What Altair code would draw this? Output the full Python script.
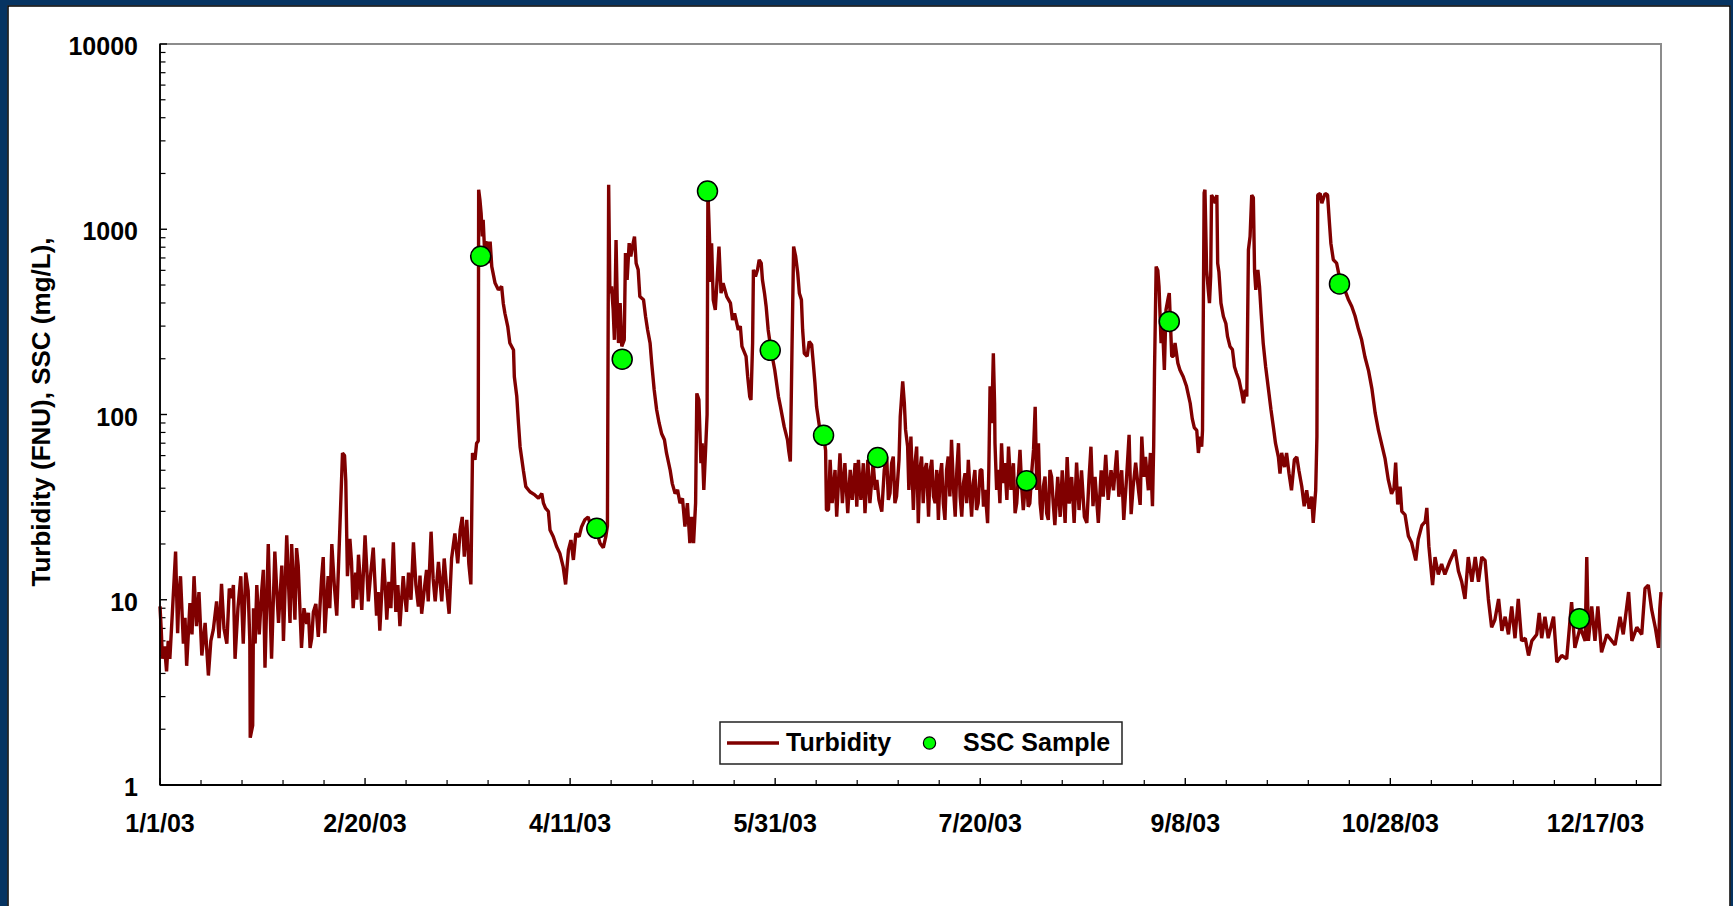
import altair as alt
import pandas as pd

# ---------------- data ----------------
# Turbidity (FNU): (day of year offset from 1/1/03, value)
turb_jan_mar = [
    (0.0, 9.2), (0.3, 6.9), (0.6, 4.8), (1.6, 4.1), (2.4, 4.8), (3.0, 8.4), (3.8, 18.2), (4.3, 6.6),
    (5.0, 13.4), (5.7, 5.8), (6.5, 4.4), (7.3, 9.6), (8.3, 13.4), (8.9, 7.2), (10.2, 5.0), (11.8, 3.9),
    (13.0, 6.9), (13.8, 9.8), (15.0, 12.2), (16.3, 5.8), (17.5, 10.2), (18.3, 4.8), (19.7, 13.4),
    (20.3, 5.8), (21.5, 11.2), (21.9, 6.0), (22.0, 1.8), (22.6, 2.1), (22.8, 9.0), (23.2, 5.8),
    (24.8, 11.2), (25.6, 4.3), (26.4, 20), (27.2, 4.8), (28.0, 18.2), (28.9, 7.5), (29.7, 15.3),
    (30.1, 6.0), (30.9, 22.3), (31.7, 7.5), (32.1, 20), (32.9, 7.8), (33.7, 15.3), (34.5, 5.5),
    (35.8, 7.4), (36.6, 5.5), (37.4, 8.6), (38.6, 6.3), (39.4, 13.1), (40.2, 6.6), (41.0, 13.4),
    (41.9, 20), (43.1, 8.2), (43.9, 26), (44.5, 62), (45.0, 60), (45.3, 44), (45.7, 13.4), (46.3, 21.3),
    (47.1, 9.0), (48.4, 17.5), (49.2, 8.8), (50.0, 22.3), (50.8, 9.8), (52.0, 19.1), (52.8, 8.2),
    (53.6, 6.8), (54.5, 16.7), (55.3, 7.8), (56.9, 20.4), (57.5, 8.6), (58.5, 7.2), (59.3, 13.4),
    (60.1, 8.6), (61.8, 20.4), (63.0, 9.2), (63.8, 8.4), (64.6, 12.2), (65.4, 9.8), (66.1, 23.3),
    (67.1, 9.8), (67.9, 16), (68.7, 9.8), (69.3, 16.7), (70.5, 8.4), (71.1, 16.7), (71.9, 22.8),
    (72.6, 15.7), (73.2, 23.8), (73.7, 28), (74.2, 17.1), (74.8, 27), (75.3, 15.7), (75.8, 12.1),
    (76.2, 62), (76.8, 57), (77.2, 70), (77.6, 72),
]
# further short oscillations seen in the dense Jan-Mar band
turb_jan_mar_fill = [
    (1.1, 5.6), (2.0, 6.0), (4.6, 10.5), (6.1, 8.0), (7.8, 6.5), (9.5, 11.0), (11.0, 7.5), (12.4, 6.0),
    (14.4, 6.2), (15.6, 7.0), (16.9, 11.5), (17.9, 12.0), (19.0, 9.0), (20.9, 14.0), (23.6, 12.0),
    (24.2, 6.5), (25.2, 14.5), (26.8, 9.5), (28.4, 12.0), (33.3, 19.0), (35.1, 9.0), (36.2, 8.5),
    (37.0, 6.2), (38.0, 9.5), (39.8, 17.0), (41.4, 9.0), (42.5, 12.0), (46.7, 16.0), (47.7, 14.0),
    (48.0, 10.0), (48.8, 13.0), (50.4, 15.0), (51.4, 14.0), (53.2, 11.0), (54.9, 12.0), (55.8, 12.5),
    (56.3, 9.0), (58.0, 12.0), (59.7, 10.5), (60.6, 14.0), (61.2, 10.0), (62.4, 12.0), (63.4, 13.5),
    (65.0, 14.5), (66.6, 13.0), (67.5, 12.5), (69.9, 11.5),
]
turb_mar_may = [
    (77.7, 1634), (78.0, 1450), (78.3, 1221), (78.6, 914), (78.8, 1125), (79.1, 807), (79.7, 858),
    (80.1, 656), (80.5, 858), (80.9, 629), (81.7, 512), (82.5, 471), (83.3, 491), (83.7, 399),
    (84.1, 352), (84.8, 298), (85.3, 243), (86.2, 223), (86.4, 160), (87.0, 125), (87.4, 90),
    (87.8, 67), (88.6, 50), (89.2, 40.8), (90.2, 38.3), (91.4, 36.8), (92.3, 35.3), (93.1, 37.5),
    (93.5, 33.2), (94.0, 31.2), (94.7, 30), (95.1, 23.8), (95.9, 21.9), (96.7, 19.4), (97.5, 17.8),
    (98.3, 15.1), (98.9, 12.1), (99.6, 18.6), (100.2, 21), (100.8, 16.4), (101.4, 22.8),
    (102.2, 21.9), (102.8, 24.8), (103.6, 27), (104.4, 28), (105.3, 23.8), (106.1, 24.8),
    (107.3, 20.2), (108.1, 19.1), (108.7, 21.9), (109.1, 25), (109.4, 1738), (109.7, 452),
    (110.1, 491), (110.5, 367), (110.8, 253), (111.2, 874), (111.5, 399), (111.8, 243), (112.2, 399),
    (112.6, 233), (113.2, 253), (113.5, 743), (113.9, 533), (114.4, 841), (114.8, 713), (115.2, 807),
    (115.7, 914), (116.1, 656), (116.6, 604), (117.0, 433), (117.9, 416), (118.4, 338), (118.9, 286),
    (119.5, 243), (119.9, 189), (120.5, 136), (121.1, 106), (121.7, 90), (122.3, 79), (123.0, 73),
    (123.5, 62), (124.4, 50), (124.9, 42.5), (125.6, 37.5), (126.2, 39.2), (126.8, 33.2),
    (127.4, 35.3), (128.0, 24.8), (128.6, 33.2), (129.2, 20.2), (129.6, 28), (130.1, 20.2),
    (130.6, 33.2), (130.9, 130), (131.4, 120), (131.9, 54.6), (132.2, 70), (132.6, 39.2),
    (133.0, 62), (133.4, 100),
]
turb_may_jun = [
    (133.6, 1620), (134.0, 877), (134.3, 520), (134.5, 841), (134.9, 416), (135.4, 367), (135.9, 560),
    (136.3, 807), (136.8, 452), (137.3, 512), (138.2, 433), (139.1, 399), (139.6, 324), (140.1, 352),
    (141.0, 286), (141.5, 300), (141.9, 233), (142.9, 206), (143.3, 160), (143.8, 125), (144.1, 120),
    (144.5, 243), (144.7, 604), (145.2, 556), (145.7, 604), (146.1, 684), (146.6, 656), (146.9, 533),
    (147.4, 452), (147.8, 383), (148.3, 286), (149.0, 223), (149.9, 174), (150.8, 125), (151.3, 110),
    (152.2, 86), (153.0, 73), (153.3, 64), (153.7, 55.7), (154.1, 223), (154.5, 807), (155.0, 713),
    (155.5, 580), (155.9, 452), (156.4, 416), (156.7, 286), (157.1, 214), (157.8, 206), (158.3, 248),
    (158.9, 238), (159.3, 189), (159.7, 148), (160.1, 110), (160.8, 86), (161.8, 77), (162.3, 64),
    (162.5, 30.5),
]
turb_jun_aug = [
    (163.0, 30.5), (163.4, 56.9), (163.9, 33.2), (164.6, 50.2), (165.0, 28.1), (165.8, 61.8),
    (166.4, 33.2), (167.0, 54.6), (167.7, 29.3), (168.3, 50.2), (168.8, 34.6), (169.5, 54.6),
    (169.9, 31.8), (170.3, 56.9), (170.9, 34.6), (171.5, 54.6), (171.9, 29.3), (172.6, 56.9),
    (173.1, 33.2), (173.9, 54.6), (174.4, 39.2), (174.8, 44.4), (175.3, 34.6), (176.0, 29.9),
    (176.6, 50.2), (177.2, 59.3), (177.6, 34.6), (178.0, 37.6), (178.4, 54.6), (178.8, 59.3),
    (179.2, 33.2), (179.6, 36.1), (180.2, 56.9), (180.5, 97.5), (181.1, 151), (181.5, 115),
    (181.8, 82.6), (182.3, 67.1), (182.6, 39.2), (183.1, 76), (183.7, 30.5), (184.1, 54.6),
    (184.5, 67.1), (184.9, 25.9), (185.3, 50.2), (185.7, 59.3), (186.1, 33.2), (186.5, 50.2),
    (186.9, 54.6), (187.4, 28.1), (187.8, 50.2), (188.2, 56.9), (188.6, 36.1), (189.0, 33.2),
    (189.4, 50.2), (189.8, 27.0), (190.2, 46.2), (190.6, 54.6), (191.0, 33.2), (191.4, 27.0),
    (191.8, 50.2), (192.2, 59.3), (192.6, 36.1), (193.0, 73), (193.5, 39.2), (193.9, 28.1),
    (194.3, 50.2), (194.7, 70), (195.1, 36.1), (195.5, 28.1), (195.9, 42.6), (196.3, 48.2),
    (196.7, 33.2), (197.1, 56.9), (197.5, 39.2), (197.9, 28.1), (198.3, 42.6), (198.7, 50.2),
    (199.1, 30.5), (199.5, 33.2), (200.0, 50.2), (200.4, 50.2), (200.8, 31.8), (201.2, 39.2),
    (201.8, 25.9), (202.1, 50.2), (202.4, 142), (202.8, 89.8), (203.2, 214), (203.5, 115),
    (203.6, 70), (204.0, 39.2), (204.4, 50.2), (204.8, 33.2), (205.2, 70), (205.6, 42.6),
    (206.0, 54.6), (206.5, 34.6), (206.9, 67.1), (207.5, 39.2), (208.1, 54.6), (208.5, 29.3),
    (208.9, 33.2), (209.3, 46.2), (209.7, 64.4), (210.1, 41), (210.5, 30.5), (210.9, 39.2),
    (211.3, 44.4), (211.7, 31.8), (212.1, 33.2), (212.6, 50.2), (213.0, 64.4), (213.4, 110),
    (213.8, 39.2), (214.2, 70), (214.6, 33.2), (215.0, 27.0), (215.4, 41), (215.8, 46.2),
    (216.2, 29.3), (216.6, 27.0), (217.0, 50.2), (217.4, 46.2), (217.8, 33.2), (218.2, 25.3),
    (218.9, 46), (219.5, 28), (220.0, 50), (220.7, 26), (221.2, 59), (221.7, 33), (222.3, 46),
    (222.9, 26), (223.5, 55), (224.1, 30.5), (224.7, 50), (225.4, 28), (226.0, 26), (226.5, 44),
    (227.0, 67), (227.5, 32), (228.0, 46), (228.8, 26), (229.5, 50), (230.0, 36), (230.6, 60.5),
    (231.2, 34.6), (231.9, 50), (232.5, 39), (233.3, 64), (233.8, 36), (234.5, 50), (235.0, 27),
    (235.7, 46), (236.3, 77.6), (236.8, 29), (237.3, 41), (237.9, 55), (238.6, 39), (239.0, 32.5),
    (239.4, 76), (239.9, 46), (240.3, 59), (241.0, 39), (241.5, 62), (242.0, 32), (242.3, 68.5),
]
turb_sep_oct = [
    (242.5, 174), (242.9, 629), (243.3, 600), (243.6, 491), (244.1, 243), (244.4, 324), (244.9, 174),
    (245.3, 367), (245.9, 433), (246.1, 452), (246.7, 206), (247.1, 206), (247.5, 243), (248.2, 189),
    (248.7, 174), (249.5, 160), (250.3, 142), (251.2, 115), (251.7, 95), (252.2, 85), (252.8, 82),
    (253.2, 62), (253.6, 76), (254.0, 67), (254.2, 82), (254.6, 1570), (254.8, 1634), (255.2, 604),
    (255.6, 472), (255.9, 399), (256.2, 560), (256.4, 1530), (256.8, 1480), (257.3, 1384),
    (257.7, 1530), (257.9, 656), (258.2, 590), (258.7, 399), (259.3, 338), (259.9, 310), (260.3, 264),
    (260.9, 233), (261.5, 224), (262.0, 181), (262.5, 167), (263.1, 154), (263.8, 130), (264.2, 115),
    (264.6, 136), (265.0, 125), (265.4, 775), (265.8, 914), (266.2, 1530), (266.6, 1480),
    (266.9, 590), (267.2, 471), (267.7, 604), (268.1, 491), (268.5, 352), (269.0, 243), (269.6, 181),
    (270.3, 136), (270.9, 106), (271.5, 85), (272.0, 70), (272.7, 59), (273.1, 48), (273.5, 62),
    (274.2, 52), (274.7, 62), (275.3, 48), (275.9, 39), (276.6, 57), (277.2, 59), (277.7, 50),
    (278.4, 41), (279.0, 32), (279.6, 39), (280.2, 31), (280.8, 36), (281.2, 26), (281.8, 39),
    (282.1, 76), (282.3, 1530), (282.9, 1560), (283.3, 1384), (284.1, 1560), (284.7, 1530),
    (285.1, 1125), (285.5, 841), (286.1, 684), (286.9, 656), (287.9, 510), (288.9, 471),
    (289.8, 416), (290.6, 383), (291.4, 340), (292.2, 290), (293.0, 253), (293.8, 205),
]
turb_nov_dec = [
    (294.7, 172), (295.5, 138), (296.3, 102), (297.1, 82), (297.9, 69), (298.7, 58), (299.5, 44.5),
    (300.3, 37.3), (300.9, 40), (301.3, 55), (301.8, 32.7), (302.4, 40.8), (302.8, 30), (303.6, 28.7),
    (304.4, 22.1), (305.2, 20.3), (306.2, 16.3), (306.8, 21.2), (307.7, 25.2), (308.5, 26.4),
    (308.9, 31.3), (309.4, 19.4), (310.3, 12.0), (310.9, 17.0), (311.7, 13.7), (312.5, 15.6),
    (313.3, 13.7), (314.6, 16.3), (315.8, 18.6), (316.6, 14.3), (317.4, 12.5), (318.2, 10.1),
    (319.0, 17.0), (319.9, 12.5), (320.7, 17.0), (321.5, 12.5), (322.3, 17.0), (323.1, 16.3),
    (323.9, 10.1), (324.7, 7.1), (325.5, 7.8), (326.4, 10.1), (327.2, 6.8), (328.0, 8.1),
    (328.8, 6.5), (329.6, 9.2), (330.4, 6.2), (331.2, 10.1), (332.0, 6.0), (332.9, 6.2), (333.7, 5.0),
    (334.5, 6.0), (335.7, 6.5), (336.3, 8.5), (336.9, 6.2), (337.7, 8.1), (338.5, 6.2), (339.8, 8.1),
    (340.6, 4.6), (341.8, 5.0), (343.0, 4.8), (344.2, 9.7), (345.0, 5.5), (346.3, 7.1), (347.5, 6.0),
    (347.9, 17.0), (348.3, 6.0), (349.1, 9.2), (349.9, 6.0), (350.6, 9.2), (351.5, 5.2), (352.8, 6.5),
    (354.0, 6.0), (354.8, 5.7), (356.0, 8.1), (356.8, 6.5), (358.1, 11.0), (358.9, 6.0), (360.1, 7.1),
    (361.3, 6.5), (362.1, 11.5), (362.9, 12.0), (363.7, 8.9), (364.6, 7.1), (365.4, 5.5),
    (365.7, 8.9), (366.0, 11.0),
]

# SSC samples (mg/L)
ssc_day = [78.2, 106.5, 112.7, 133.5, 148.8, 161.8, 175.0, 211.3, 246.1, 287.6, 346.1]
ssc_val = [715, 24.3, 199, 1607, 222, 77.2, 58.6, 43.9, 318, 507, 7.9]

x_tick_labels = ["1/1/03", "2/20/03", "4/11/03", "5/31/03", "7/20/03", "9/8/03", "10/28/03", "12/17/03"]
y_tick_labels = [1, 10, 100, 1000, 10000]
legend_labels = ["Turbidity", "SSC Sample"]
y_title = "Turbidity (FNU), SSC (mg/L),"

# ---------------- build tables ----------------
START = pd.Timestamp("2003-01-01")


def to_iso(days):
    return [(START + pd.Timedelta(days=float(d))).strftime("%Y-%m-%dT%H:%M:%S") for d in days]


turb_pairs = sorted(turb_jan_mar + turb_jan_mar_fill + turb_mar_may + turb_may_jun
                    + turb_jun_aug + turb_sep_oct + turb_nov_dec)
turb = pd.DataFrame({"date": to_iso([p[0] for p in turb_pairs]), "value": [p[1] for p in turb_pairs],
                     "order": list(range(len(turb_pairs)))})
ssc = pd.DataFrame({"date": to_iso(ssc_day), "value": ssc_val})

major_dates = pd.to_datetime(x_tick_labels, format="%m/%d/%y")
major_set = set(major_dates)
all_ticks = pd.date_range("2003-01-01", "2003-12-31", freq="10D")
xt = pd.DataFrame({"date": [d.strftime("%Y-%m-%dT%H:%M:%S") for d in all_ticks],
                   "major": [d in major_set for d in all_ticks]})
yminor = [m * 10 ** k for k in range(4) for m in range(2, 10)]
yt_major = pd.DataFrame({"value": y_tick_labels})
yt_minor = pd.DataFrame({"value": yminor})
xlab = pd.DataFrame({"date": [d.strftime("%Y-%m-%dT%H:%M:%S") for d in major_dates],
                     "label": x_tick_labels})
ylab = pd.DataFrame({"value": y_tick_labels, "label": [str(v) for v in y_tick_labels]})

# ---------------- chart ----------------
W, H = 1501, 741
FONT = "Liberation Sans"
NAVY = "#063462"

x_scale = alt.Scale(domain=[alt.DateTime(year=2003, month=1, date=1),
                            alt.DateTime(year=2004, month=1, date=2)], nice=False)
y_scale = alt.Scale(type="log", domain=[1, 10000], nice=False)

one = alt.Data(values=[{"k": 0}])

# page frame (navy band + thin black line)
nav_left = alt.Chart(one).mark_rect(fill=NAVY).encode(
    x=alt.value(-160), x2=alt.value(-152.5), y=alt.value(-44), y2=alt.value(870))
nav_top = alt.Chart(one).mark_rect(fill=NAVY).encode(
    x=alt.value(-160), x2=alt.value(1573), y=alt.value(-44), y2=alt.value(-38.5))
nav_right = alt.Chart(one).mark_rect(fill=NAVY).encode(
    x=alt.value(1570.5), x2=alt.value(1573), y=alt.value(-44), y2=alt.value(870))
page_line = alt.Chart(one).mark_rect(fill="white", fillOpacity=0, stroke="black", strokeWidth=1.5).encode(
    x=alt.value(-152), x2=alt.value(1570), y=alt.value(-38), y2=alt.value(880))

# plot frame: grey top/right, black left/bottom axes
frame = alt.Chart(one).mark_rect(fill="white", fillOpacity=0, stroke="#8c8c8c", strokeWidth=2).encode(
    x=alt.value(0), x2=alt.value(W), y=alt.value(0), y2=alt.value(H))
left_axis = alt.Chart(one).mark_rule(color="black", strokeWidth=1.8).encode(
    x=alt.value(0), y=alt.value(0), y2=alt.value(H))
bottom_axis = alt.Chart(one).mark_rule(color="black", strokeWidth=1.8).encode(
    x=alt.value(0), x2=alt.value(W), y=alt.value(H))

xt_major = alt.Chart(xt[xt["major"]]).mark_rule(color="black", strokeWidth=1.4).encode(
    x=alt.X("date:T", scale=x_scale), y=alt.value(H), y2=alt.value(H - 7))
xt_minor = alt.Chart(xt[~xt["major"]]).mark_rule(color="black", strokeWidth=1.2).encode(
    x=alt.X("date:T", scale=x_scale), y=alt.value(H), y2=alt.value(H - 5))
yt1 = alt.Chart(yt_major).mark_rule(color="black", strokeWidth=1.4).encode(
    y=alt.Y("value:Q", scale=y_scale), x=alt.value(0), x2=alt.value(7))
yt2 = alt.Chart(yt_minor).mark_rule(color="black", strokeWidth=1.2).encode(
    y=alt.Y("value:Q", scale=y_scale), x=alt.value(0), x2=alt.value(5.5))

# tick labels and axis title as text marks placed through the scales
x_labels = alt.Chart(xlab).mark_text(
    align="center", baseline="top", font=FONT, fontSize=25, fontWeight="bold", color="black", dy=27).encode(
    x=alt.X("date:T", scale=x_scale), y=alt.value(H), text="label:N")
y_labels = alt.Chart(ylab).mark_text(
    align="right", baseline="middle", font=FONT, fontSize=25, fontWeight="bold", color="black", dy=3).encode(
    y=alt.Y("value:Q", scale=y_scale), x=alt.value(-22), text="label:N")
y_title_mark = alt.Chart(alt.Data(values=[{"t": y_title}])).mark_text(
    align="center", baseline="middle", font=FONT, fontSize=26, fontWeight="bold", color="black",
    angle=270).encode(x=alt.value(-118), y=alt.value(368), text="t:N")

line = alt.Chart(turb).mark_line(color="#800000", strokeWidth=3.4, strokeJoin="bevel").encode(
    x=alt.X("date:T", scale=x_scale),
    y=alt.Y("value:Q", scale=y_scale),
    order="order:Q",
)

points = alt.Chart(ssc).mark_point(shape="circle", filled=True, fill="#00FF00", stroke="black",
                                   strokeWidth=1.5, size=400, opacity=1).encode(
    x=alt.X("date:T", scale=x_scale),
    y=alt.Y("value:Q", scale=y_scale),
)

# legend
leg_box = alt.Chart(one).mark_rect(fill="white", stroke="#222222", strokeWidth=1.5).encode(
    x=alt.value(560), x2=alt.value(962), y=alt.value(678), y2=alt.value(720))
leg_line = alt.Chart(one).mark_rule(color="#800000", strokeWidth=3.5).encode(
    x=alt.value(567), x2=alt.value(619), y=alt.value(699))
leg_dot = alt.Chart(one).mark_point(shape="circle", filled=True, fill="#00FF00", stroke="black",
                                    strokeWidth=1.2, size=150, opacity=1).encode(
    x=alt.value(769.5), y=alt.value(699))
leg_t1 = alt.Chart(alt.Data(values=[{"label": legend_labels[0]}])).mark_text(
    align="left", baseline="middle", font=FONT, fontSize=25, fontWeight="bold", color="black").encode(
    x=alt.value(626), y=alt.value(699), text="label:N")
leg_t2 = alt.Chart(alt.Data(values=[{"label": legend_labels[1]}])).mark_text(
    align="left", baseline="middle", font=FONT, fontSize=25, fontWeight="bold", color="black").encode(
    x=alt.value(803), y=alt.value(699), text="label:N")

chart = alt.layer(
    frame, xt_major, xt_minor, yt1, yt2, line, points, left_axis, bottom_axis,
    x_labels, y_labels, y_title_mark,
    leg_box, leg_line, leg_dot, leg_t1, leg_t2,
    nav_left, nav_top, nav_right, page_line,
).resolve_axis(x="shared", y="shared").properties(
    width=W, height=H,
    padding={"left": 160, "top": 44, "right": 72, "bottom": 121},
    autosize=alt.AutoSizeParams(type="none"),
    background="white",
).configure(font=FONT).configure_axis(
    labels=False, ticks=False, domain=False, grid=False, title=None
).configure_view(strokeWidth=0)

chart.save("out.html", embed_options={"renderer": "svg", "actions": False})
